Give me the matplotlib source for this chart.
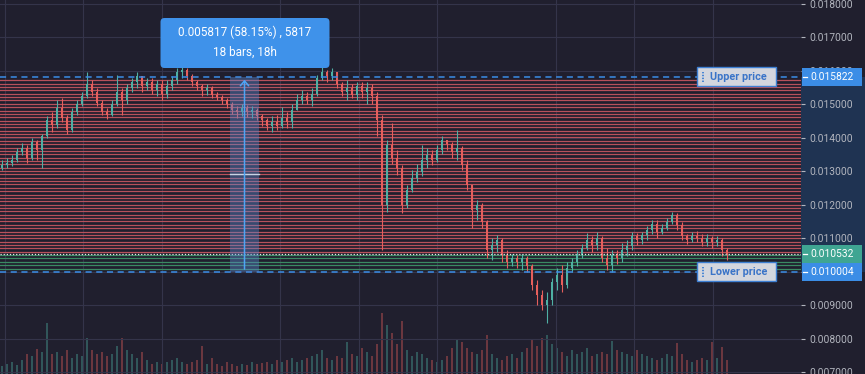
import numpy as np
import matplotlib
matplotlib.use("Agg")
import matplotlib.pyplot as plt
from matplotlib.patches import Rectangle, FancyBboxPatch
from matplotlib.lines import Line2D

plt.rcParams['font.family'] = ['Roboto', 'DejaVu Sans']

# ---------------- data (prices in units of 1e-5) ----------------
first_open5 = 1311
close5 = [1319, 1325, 1334, 1358, 1370, 1340, 1388, 1364, 1406, 1454,
          1439, 1490, 1460, 1424, 1478, 1502, 1525, 1561, 1537, 1505,
          1478, 1469, 1502, 1537, 1514, 1549, 1567, 1585, 1555, 1567,
          1543, 1561, 1531, 1555, 1573, 1597, 1603, 1585, 1567, 1555,
          1543, 1549, 1528, 1522, 1514, 1502, 1484, 1478, 1490, 1478,
          1484, 1466, 1454, 1436, 1448, 1436, 1460, 1448, 1484, 1514,
          1525, 1514, 1531, 1579, 1597, 1585, 1597, 1561, 1537, 1549,
          1528, 1555, 1537, 1549, 1525, 1454, 1200, 1379, 1340, 1311,
          1200, 1245, 1281, 1299, 1334, 1349, 1334, 1364, 1394, 1382,
          1358, 1370, 1319, 1260, 1185, 1200, 1149, 1066, 1081, 1096,
          1051, 1030, 1042, 1030, 1042, 1018, 961, 931, 902, 916,
          970, 991, 961, 1012, 1030, 1051, 1072, 1096, 1081, 1102,
          1042, 1021, 1051, 1042, 1066, 1078, 1108, 1096, 1111, 1125,
          1143, 1119, 1131, 1149, 1170, 1140, 1108, 1096, 1108, 1102,
          1090, 1102, 1090, 1096, 1066, 1053.2]
high5 = [1334, 1340, 1349, 1370, 1385, 1379, 1400, 1394, 1412, 1466,
         1478, 1514, 1519, 1469, 1490, 1514, 1537, 1597, 1573, 1549,
         1514, 1490, 1514, 1588, 1549, 1561, 1579, 1597, 1585, 1579,
         1579, 1573, 1573, 1573, 1585, 1609, 1618, 1609, 1591, 1573,
         1561, 1561, 1555, 1537, 1528, 1519, 1508, 1496, 1502, 1499,
         1496, 1490, 1472, 1460, 1466, 1469, 1493, 1478, 1502, 1531,
         1543, 1537, 1549, 1588, 1615, 1603, 1609, 1597, 1567, 1573,
         1561, 1567, 1567, 1567, 1561, 1537, 1469, 1394, 1445, 1364,
         1319, 1260, 1305, 1322, 1379, 1370, 1364, 1379, 1406, 1394,
         1388, 1424, 1376, 1334, 1251, 1215, 1206, 1155, 1102, 1111,
         1102, 1066, 1054, 1051, 1054, 1048, 1024, 976, 946, 940,
         982, 1012, 1021, 1030, 1042, 1066, 1084, 1117, 1108, 1119,
         1108, 1072, 1066, 1066, 1087, 1096, 1119, 1117, 1119, 1137,
         1155, 1155, 1143, 1161, 1179, 1176, 1149, 1114, 1119, 1122,
         1114, 1114, 1108, 1108, 1102, 1072]
low5 = [1305, 1311, 1317, 1328, 1349, 1325, 1334, 1334, 1311, 1400,
        1418, 1430, 1448, 1412, 1418, 1469, 1496, 1519, 1525, 1496,
        1469, 1457, 1466, 1496, 1469, 1502, 1537, 1549, 1537, 1543,
        1531, 1525, 1514, 1519, 1543, 1561, 1579, 1573, 1555, 1543,
        1525, 1528, 1519, 1514, 1502, 1490, 1472, 1460, 1466, 1463,
        1460, 1454, 1436, 1424, 1418, 1424, 1430, 1430, 1430, 1490,
        1502, 1502, 1496, 1525, 1573, 1567, 1573, 1549, 1525, 1514,
        1519, 1514, 1519, 1502, 1502, 1406, 1066, 1179, 1322, 1290,
        1176, 1191, 1239, 1269, 1287, 1311, 1319, 1328, 1352, 1364,
        1340, 1334, 1305, 1245, 1131, 1155, 1131, 1042, 1036, 1060,
        1030, 1012, 1018, 1012, 1006, 1000, 946, 902, 887, 848,
        902, 946, 940, 952, 1000, 1018, 1042, 1066, 1060, 1066,
        1030, 1006, 1000, 1024, 1030, 1048, 1066, 1081, 1084, 1096,
        1114, 1102, 1114, 1125, 1143, 1125, 1096, 1084, 1090, 1090,
        1078, 1078, 1072, 1078, 1048, 1036]
volume = [8, 10, 12, 9, 14, 20, 18, 25, 22, 50,
          20, 22, 18, 24, 16, 20, 18, 36, 24, 20,
          22, 18, 20, 28, 36, 24, 20, 16, 22, 14,
          10, 12, 10, 12, 14, 16, 12, 10, 12, 14,
          28, 10, 16, 10, 8, 12, 10, 8, 10, 9,
          12, 10, 11, 12, 10, 14, 12, 14, 16, 12,
          14, 16, 18, 20, 24, 16, 14, 18, 16, 32,
          20, 18, 26, 22, 18, 30, 60, 48, 40, 30,
          52, 24, 18, 22, 20, 16, 14, 12, 14, 18,
          26, 34, 32, 26, 22, 20, 24, 38, 20, 16,
          14, 18, 20, 16, 22, 26, 34, 28, 36, 38,
          30, 26, 22, 18, 24, 20, 22, 26, 18, 20,
          22, 20, 33, 24, 22, 20, 18, 24, 20, 18,
          16, 14, 16, 20, 18, 31, 20, 14, 12, 14,
          16, 14, 32, 16, 27, 14]

lower_price = 0.010004
upper_price = 0.015822
last_price = 0.010532
grid_count = 58
price_ticks = [0.007, 0.008, 0.009, 0.010, 0.011, 0.012, 0.013,
               0.014, 0.015, 0.016, 0.017, 0.018]
tooltip_lines = ["0.005817 (58.15%) , 5817", "18 bars, 18h"]
upper_label = "Upper price"
lower_label = "Lower price"

# ---------------- style ----------------
BG = '#201f2e'
GRID = '#34344a'
UP = '#4fb0a4'
DOWN = '#e65f5c'
RED_LVL = '#b8515b'
GREEN_LVL = '#3a8a62'
BLUE = '#3b8de6'
TEAL_BOX = '#3fa592'
AXIS_BAND = '#1f3352'
TICK_TXT = '#b2b5be'

W, H = 865, 374
PLOT_W = 801
fig = plt.figure(figsize=(W / 100, H / 100), dpi=100)
fig.patch.set_facecolor(BG)

YMIN, YMAX = 0.0069552, 0.0181194
XMIN, XMAX = -0.4, 159.8

def fy(p):
    return (p - YMIN) / (YMAX - YMIN)

# volume axes (behind)
vax = fig.add_axes([0, 0, PLOT_W / W, 1], zorder=0)
vax.set_facecolor(BG)
vax.set_xlim(XMIN, XMAX)
vol = np.array(volume, dtype=float)
vax.set_ylim(0, vol.max() * 6.15)
vax.axis('off')

# main axes
ax = fig.add_axes([0, 0, PLOT_W / W, 1], zorder=1)
ax.set_facecolor('none')
ax.set_xlim(XMIN, XMAX)
ax.set_ylim(YMIN, YMAX)
for s in ax.spines.values():
    s.set_visible(False)
ax.set_xticks([])
ax.yaxis.tick_right()
ax.set_yticks(price_ticks)
ax.set_yticklabels([f"{v:.6f}" for v in price_ticks])
ax.tick_params(axis='y', colors=TICK_TXT, labelsize=7.4, length=2.6,
               width=0.8, pad=3.2)
ax.yaxis.grid(True, color=GRID, lw=0.8, zorder=0)
ax.set_axisbelow(True)
for gx in [0.6, 16.2, 32, 55.6, 71.4, 87, 110.8, 126.4, 142.2]:
    ax.axvline(gx, color=GRID, lw=0.8, zorder=0.5)

# grid-bot levels
levels = np.linspace(lower_price, upper_price, grid_count + 1)
for lv in levels[1:-1]:
    c = RED_LVL if lv > last_price else GREEN_LVL
    ax.axhline(lv, color=c, lw=0.9, zorder=1)

# candles
close = np.array(close5) * 1e-5
opn = np.concatenate([[first_open5 * 1e-5], close[:-1]])
high = np.maximum(np.array(high5) * 1e-5, np.maximum(opn, close))
low = np.minimum(np.array(low5) * 1e-5, np.minimum(opn, close))
x = np.arange(len(close))
cols = np.where(close >= opn, UP, DOWN)

vax.bar(x, vol, width=0.4, color=cols, alpha=0.38, linewidth=0)

ax.vlines(x, low, high, colors=cols, lw=0.8, zorder=3)
body_h = np.where(np.abs(close - opn) < 1.5e-6, 1.5e-6, close - opn)
ax.bar(x, body_h, bottom=opn, width=0.5, color=cols, linewidth=0, zorder=3)

# boundary lines
ax.axhline(upper_price, color=BLUE, lw=1.1, ls=(0, (4, 3)), zorder=4)
ax.axhline(lower_price, color=BLUE, lw=1.1, ls=(0, (4, 3)), zorder=4)
ax.axhline(last_price, color='#e6e6e6', lw=0.9, ls=(0, (1, 1.5)), zorder=4)

# measure tool
mx0, mx1 = 45.6, 51.4
mxc = (mx0 + mx1) / 2
ax.add_patch(Rectangle((mx0, lower_price), mx1 - mx0, upper_price - lower_price,
                       facecolor='#5a86cc', alpha=0.42, linewidth=0, zorder=5))
ax.plot([mx0, mx1], [(lower_price + upper_price) / 2] * 2,
        color='#c9d2e3', lw=1.0, zorder=6)
ax.annotate('', xy=(mxc, upper_price), xytext=(mxc, lower_price),
            arrowprops=dict(arrowstyle='->,head_length=0.35,head_width=0.3',
                            color='#4ea4f5', lw=1.1), zorder=6)

# right price-axis highlight band
fig.add_artist(Rectangle((PLOT_W / W, fy(lower_price)), (W - PLOT_W) / W,
                         fy(upper_price) - fy(lower_price),
                         transform=fig.transFigure, facecolor=AXIS_BAND,
                         linewidth=0, zorder=0.5))

# price labels on axis
for p, col in [(upper_price, BLUE), (last_price, TEAL_BOX), (lower_price, BLUE)]:
    yf = fy(p)
    fig.add_artist(Rectangle((802 / W, yf - 9 / H), 60 / W, 18 / H,
                             transform=fig.transFigure, facecolor=col,
                             linewidth=0, zorder=3))
    fig.add_artist(Line2D([803 / W, 806.5 / W], [yf, yf], color='white',
                          lw=0.9, transform=fig.transFigure, zorder=4))
    fig.text(810.5 / W, yf, f"{p:.6f}", color='white', fontsize=7.4,
             ha='left', va='center', zorder=4)

# Upper / Lower price handles
for p, lab in [(upper_price, upper_label), (lower_price, lower_label)]:
    yf = fy(p)
    fig.add_artist(Rectangle((697 / W, yf - 9.5 / H), 79 / W, 19 / H,
                             transform=fig.transFigure, facecolor='#d3d6de',
                             edgecolor='#3d7fd3', linewidth=1.0, zorder=3))
    fig.add_artist(Line2D([702.5 / W] * 2, [yf - 5 / H, yf + 5 / H],
                          color='#3d7fd3', lw=1.3, ls=(0, (0.8, 0.8)),
                          transform=fig.transFigure, zorder=4))
    fig.text(710.5 / W, yf, lab, color='#3a74c8', fontsize=7.8,
             fontweight='bold', ha='left', va='center', zorder=4)

# tooltip
fig.add_artist(FancyBboxPatch((160.5 / 100, (H - 68) / 100), 169 / 100, 50 / 100,
                              boxstyle='round,pad=0,rounding_size=0.04',
                              transform=fig.dpi_scale_trans,
                              facecolor='#3f92ea', linewidth=0, zorder=5))
fig.text(245 / W, 1 - 32 / H, tooltip_lines[0], color='white', fontsize=8.5,
         ha='center', va='center', zorder=6)
fig.text(245 / W, 1 - 52 / H, tooltip_lines[1], color='white', fontsize=8.5,
         ha='center', va='center', zorder=6)

fig.savefig('out.png', dpi=100, facecolor=BG)
